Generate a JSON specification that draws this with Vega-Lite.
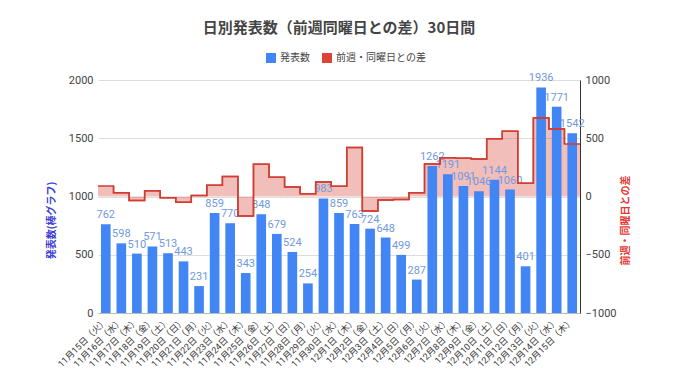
{
  "$schema": "https://vega.github.io/schema/vega-lite/v6.json",
  "width": 482,
  "height": 233,
  "autosize": {"type": "none"},
  "padding": {"left": 98, "top": 80, "right": 100, "bottom": 69},
  "background": "white",
  "config": {"font": "Roboto, Noto Sans CJK JP", "view": {"stroke": null}},
  "title": {"text": "日別発表数（前週同曜日との差）30日間", "fontSize": 15, "font": "Noto Sans CJK JP", "color": "#444444", "fontWeight": "bold", "anchor": "middle", "offset": 17},
  "data": {"values": [
    {"d": "11月15日（火）", "n": 762, "diff": 90},
    {"d": "11月16日（水）", "n": 598, "diff": 33},
    {"d": "11月17日（木）", "n": 510, "diff": -35},
    {"d": "11月18日（金）", "n": 571, "diff": 50},
    {"d": "11月19日（土）", "n": 513, "diff": -10},
    {"d": "11月20日（日）", "n": 443, "diff": -50},
    {"d": "11月21日（月）", "n": 231, "diff": 9},
    {"d": "11月22日（火）", "n": 859, "diff": 97},
    {"d": "11月23日（水）", "n": 770, "diff": 172},
    {"d": "11月24日（木）", "n": 343, "diff": -167},
    {"d": "11月25日（金）", "n": 848, "diff": 277},
    {"d": "11月26日（土）", "n": 679, "diff": 166},
    {"d": "11月27日（日）", "n": 524, "diff": 81},
    {"d": "11月28日（月）", "n": 254, "diff": 23},
    {"d": "11月29日（火）", "n": 983, "diff": 124},
    {"d": "11月30日（水）", "n": 859, "diff": 89},
    {"d": "12月1日（木）", "n": 763, "diff": 420},
    {"d": "12月2日（金）", "n": 724, "diff": -124},
    {"d": "12月3日（土）", "n": 648, "diff": -31},
    {"d": "12月4日（日）", "n": 499, "diff": -25},
    {"d": "12月5日（月）", "n": 287, "diff": 33},
    {"d": "12月6日（火）", "n": 1262, "diff": 279},
    {"d": "12月7日（水）", "n": 1191, "diff": 332},
    {"d": "12月8日（木）", "n": 1091, "diff": 328},
    {"d": "12月9日（金）", "n": 1046, "diff": 322},
    {"d": "12月10日（土）", "n": 1144, "diff": 496},
    {"d": "12月11日（日）", "n": 1060, "diff": 561},
    {"d": "12月12日（月）", "n": 401, "diff": 114},
    {"d": "12月13日（火）", "n": 1936, "diff": 674},
    {"d": "12月14日（水）", "n": 1771, "diff": 580},
    {"d": "12月15日（木）", "n": 1542, "diff": 451}
  ]},
  "encoding": {
    "x": {
      "field": "d", "type": "ordinal", "sort": null,
      "scale": {"paddingInner": 0, "paddingOuter": 0},
      "axis": {"title": null, "labelAngle": -45, "labelAlign": "right", "labelBaseline": "middle", "labelPadding": 6, "labelFontSize": 9, "labelColor": "#333333", "labelOverlap": false, "ticks": false, "domain": true, "domainColor": "#bbbbbb"}
    }
  },
  "layer": [
    {
      "mark": {"type": "bar", "opacity": 0.35},
      "encoding": {
        "y": {"field": "diff", "type": "quantitative", "scale": {"domain": [-1000, 1000], "nice": false},
          "axis": {"orient": "right", "values": [-1000, -500, 0, 500, 1000], "format": "d", "grid": false, "ticks": false, "domain": true, "domainColor": "#333333", "labelColor": "#444444", "labelFontSize": 11, "labelPadding": 5,
            "title": "前週・同曜日との差", "titleFont": "Noto Sans CJK JP", "titleColor": "#e53935", "titleFontSize": 10, "titleFontWeight": "bold", "titleAngle": 270, "titlePadding": 14, "titleY": 140}},
        "y2": {"datum": 0},
        "color": {"datum": "前週・同曜日との差", "type": "nominal",
          "scale": {"domain": ["発表数", "前週・同曜日との差"], "range": ["#4285f4", "#db4437"]},
          "legend": {"orient": "none", "legendX": 168, "legendY": -27, "direction": "horizontal", "title": null, "symbolType": "square", "symbolSize": 100, "symbolOpacity": 1, "symbolStrokeWidth": 0, "labelFont": "Noto Sans CJK JP", "labelFontSize": 10, "labelColor": "#444444", "columnPadding": 12}}
      }
    },
    {
      "mark": {"type": "bar", "width": {"band": 0.62}},
      "encoding": {
        "y": {"field": "n", "type": "quantitative", "scale": {"domain": [0, 2000], "nice": false},
          "axis": {"orient": "left", "values": [0, 500, 1000, 1500, 2000], "format": "d", "grid": true, "gridColor": "#dddddd", "ticks": false, "domain": false, "labelColor": "#444444", "labelFontSize": 11, "labelPadding": 5,
            "title": "発表数(棒グラフ)", "titleFont": "Noto Sans CJK JP", "titleColor": "#3d3dd6", "titleFontSize": 10, "titleFontWeight": "bold", "titlePadding": 12, "titleY": 140}},
        "color": {"datum": "発表数", "type": "nominal"}
      }
    },
    {
      "mark": {"type": "text", "dy": -9, "fontSize": 11, "color": "#6f9ae0"},
      "encoding": {
        "y": {"field": "n", "type": "quantitative", "scale": {"domain": [0, 2000], "nice": false}, "axis": null},
        "text": {"field": "n", "type": "quantitative", "format": "d"}
      }
    },
    {
      "mark": {"type": "line", "interpolate": "step-after", "color": "#cf3d33", "strokeWidth": 1.5},
      "encoding": {
        "x": {"field": "d", "type": "ordinal", "sort": null, "bandPosition": 0},
        "y": {"field": "diff", "type": "quantitative", "scale": {"domain": [-1000, 1000], "nice": false}, "axis": null}
      }
    },
    {
      "mark": {"type": "line", "interpolate": "step-before", "color": "#cf3d33", "strokeWidth": 1.5},
      "encoding": {
        "x": {"field": "d", "type": "ordinal", "sort": null, "bandPosition": 1},
        "y": {"field": "diff", "type": "quantitative", "scale": {"domain": [-1000, 1000], "nice": false}, "axis": null}
      }
    }
  ],
  "resolve": {"scale": {"y": "independent"}}
}
